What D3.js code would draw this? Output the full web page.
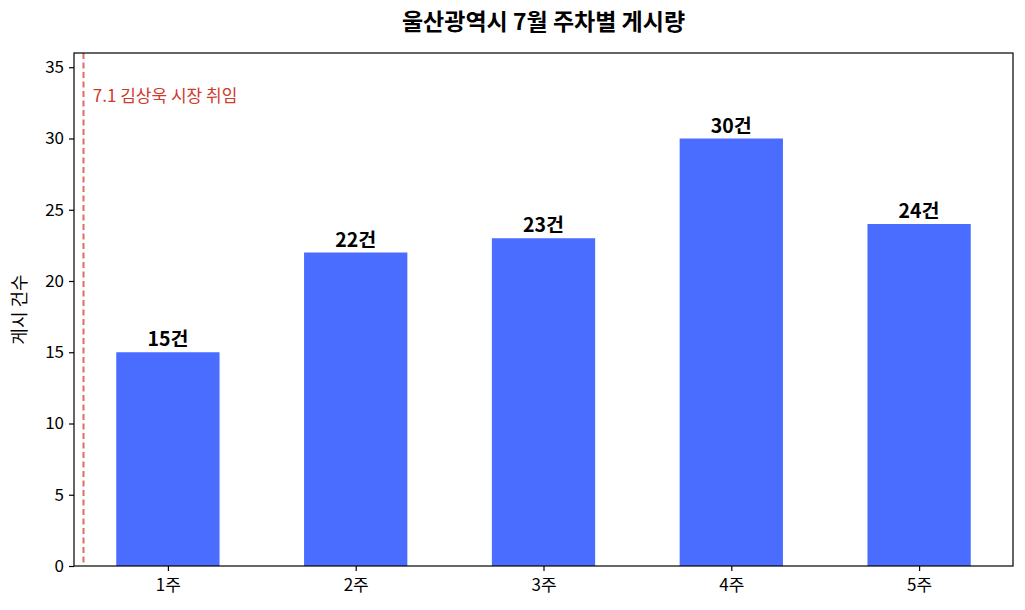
<!DOCTYPE html>
<html>
<head>
<meta charset="utf-8">
<script src="https://cdn.jsdelivr.net/npm/d3@7/dist/d3.min.js"></script>
<style>
  body { margin: 0; background: #fff; }
  text { font-family: "Noto Sans CJK KR", "Noto Sans", sans-serif; }
</style>
</head>
<body>
<div id="chart"></div>
<script>
// data
const weeks = ["1주", "2주", "3주", "4주", "5주"];
const counts = [15, 22, 23, 30, 24];
const yTicks = [0, 5, 10, 15, 20, 25, 30, 35];
const eventLabel = "7.1 김상욱 시장 취임";
const eventX = -0.45;   // position of the dashed line in category units
const eventTextPos = [-0.4, 33];

const width = 1025, height = 610;
const margin = {top: 53, right: 12, bottom: 44, left: 74};
const innerW = width - margin.left - margin.right;
const innerH = height - margin.top - margin.bottom;

const svg = d3.select("#chart").append("svg")
    .attr("width", width)
    .attr("height", height);

const g = svg.append("g")
    .attr("transform", `translate(${margin.left},${margin.top})`);

// linear x in category units, like matplotlib
const x = d3.scaleLinear().domain([-0.5, weeks.length - 0.5]).range([0, innerW]);
const y = d3.scaleLinear().domain([0, 36]).range([innerH, 0]);
const barW = 0.55;

// bars
g.selectAll("rect.bar")
    .data(counts)
    .enter().append("rect")
    .attr("class", "bar")
    .attr("x", (d, i) => x(i - barW / 2))
    .attr("width", x(barW) - x(0))
    .attr("y", d => y(d))
    .attr("height", d => innerH - y(d))
    .style("fill", "#4a6dff");

// value labels
g.selectAll("text.val")
    .data(counts)
    .enter().append("text")
    .attr("class", "val")
    .attr("x", (d, i) => x(i))
    .attr("y", d => y(d) - 6)
    .attr("text-anchor", "middle")
    .style("font-size", "19.5px")
    .style("font-weight", "700")
    .text(d => d + "건");

// event line
g.append("line")
    .attr("x1", Math.round(x(eventX)) + 0.5).attr("x2", Math.round(x(eventX)) + 0.5)
    .attr("y1", 0).attr("y2", innerH)
    .style("stroke", "#df6c60")
    .style("stroke-width", 2)
    .style("stroke-dasharray", "6,3.5");

g.append("text")
    .attr("x", x(eventTextPos[0]))
    .attr("y", y(eventTextPos[1]))
    .attr("dy", "0.35em")
    .style("fill", "#d0392b")
    .style("font-size", "17px")
    .text(eventLabel);

// axes
const xAxis = g.append("g")
    .attr("transform", `translate(0,${innerH})`)
    .call(d3.axisBottom(x).tickValues(d3.range(weeks.length)).tickFormat(i => weeks[i]).tickSize(5).tickPadding(8));

const yAxis = g.append("g")
    .call(d3.axisLeft(y).tickValues(yTicks).tickSize(5).tickPadding(5));

[xAxis, yAxis].forEach(a => {
    a.selectAll("text").style("font-size", "17px").style("fill", "#000")
        .style("font-family", '"Noto Sans CJK KR", sans-serif');
    a.selectAll("line").style("stroke", "#000").style("stroke-width", 1.2);
    a.select(".domain").remove();
});

// frame
g.append("rect")
    .attr("width", innerW).attr("height", innerH)
    .style("fill", "none")
    .style("stroke", "#000")
    .style("stroke-width", 1.2);

// y label
svg.append("text")
    .attr("transform", `translate(20,${margin.top + innerH / 2}) rotate(-90)`)
    .attr("text-anchor", "middle")
    .attr("dy", "0.35em")
    .style("font-size", "18px")
    .text("게시 건수");

// title
svg.append("text")
    .attr("x", margin.left + innerW / 2)
    .attr("y", 30)
    .attr("text-anchor", "middle")
    .style("font-size", "23px")
    .style("font-weight", "700")
    .text("울산광역시 7월 주차별 게시량");
</script>
</body>
</html>
